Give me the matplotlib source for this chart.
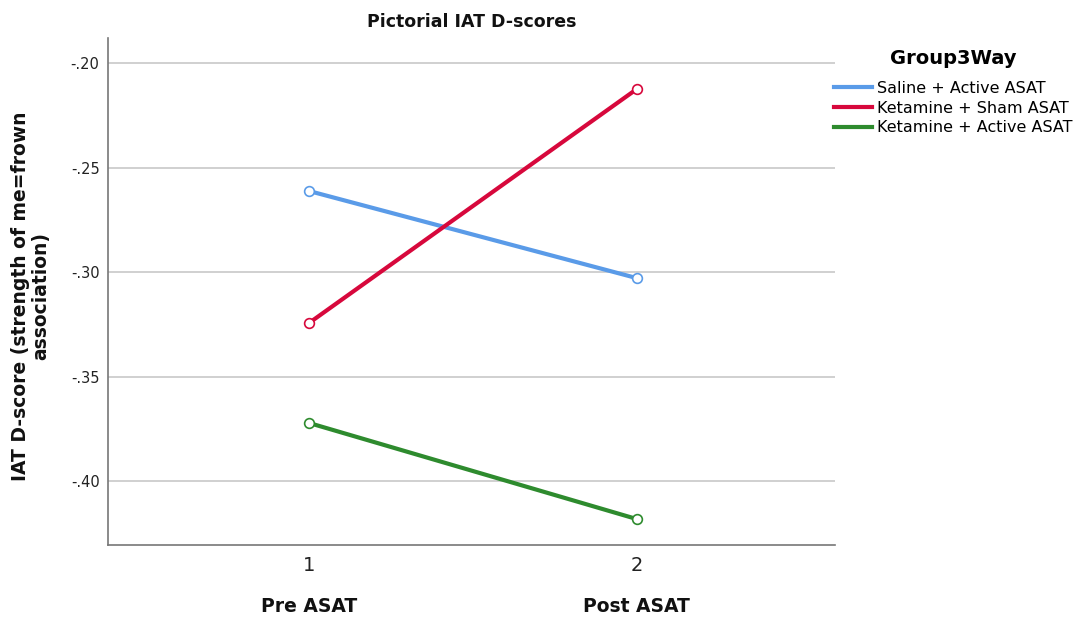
import matplotlib
matplotlib.use("Agg")
import matplotlib.pyplot as plt

times = [1, 2]
time_labels = ["Pre ASAT", "Post ASAT"]
groups = ["Saline + Active ASAT", "Ketamine + Sham ASAT", "Ketamine + Active ASAT"]
saline_active = [-0.2612, -0.3029]
ketamine_sham = [-0.3244, -0.2124]
ketamine_active = [-0.3722, -0.4182]
series = [saline_active, ketamine_sham, ketamine_active]
colors = ["#5A9BE8", "#D7083C", "#2E8B2E"]
yticks = [-0.20, -0.25, -0.30, -0.35, -0.40]
ytick_labels = ["-.20", "-.25", "-.30", "-.35", "-.40"]

fig = plt.figure(figsize=(10.86, 6.17), dpi=100)
ax = fig.add_axes([0.0994, 0.1167, 0.6694, 0.8217])

for vals, name, c in zip(series, groups, colors):
    ax.plot(times, vals, color=c, lw=3, label=name, solid_capstyle='butt')
    ax.plot(times, vals, ls='none', marker='o', ms=7, mfc='white', mec=c,
            mew=1.2, alpha=1)

ax.set_xlim(0.387, 2.604)
ax.set_ylim(-0.4306, -0.188)
ax.set_yticks(yticks)
ax.set_yticklabels(ytick_labels, fontsize=10.5, color="#222222")
ax.set_xticks(times)
ax.set_xticklabels(["1", "2"], fontsize=14, color="#222222")
ax.tick_params(axis='both', length=0)
ax.tick_params(axis='x', pad=8)
ax.tick_params(axis='y', pad=6)
ax.yaxis.grid(True, color="#c8c8c8", lw=1.2)
ax.set_axisbelow(True)
for s in ["top", "right"]:
    ax.spines[s].set_visible(False)
for s in ["left", "bottom"]:
    ax.spines[s].set_color("#777777")
    ax.spines[s].set_linewidth(1.2)

for t, lab in zip(times, time_labels):
    ax.annotate(lab, xy=(t, 0), xycoords=('data', 'axes fraction'),
                xytext=(0, -44), textcoords='offset points', ha='center', va='center',
                fontsize=13.5, fontweight='bold', color="#111111")

ax.set_title("Pictorial IAT D-scores", fontsize=12.5, fontweight='bold', pad=8, color="#111111")
fig.text(0.028, 0.52, "IAT D-score (strength of me=frown\nassociation)", rotation=90,
         ha='center', va='center', fontsize=13.5, fontweight='bold', color="#111111",
         multialignment='center', linespacing=1.05)

handles = [plt.Line2D([0], [0], color=c, lw=3) for c in colors]
leg = fig.legend(handles, groups, loc='upper left', bbox_to_anchor=(0.768, 0.92),
                 frameon=False, fontsize=11.5, title="Group3Way", handlelength=2.4,
                 handletextpad=0.3, labelspacing=0.3, borderaxespad=0, borderpad=0)
leg.get_title().set_fontweight('bold')
leg.get_title().set_fontsize(14)
leg._legend_box.sep = 9

fig.savefig("out.png", dpi=100)
